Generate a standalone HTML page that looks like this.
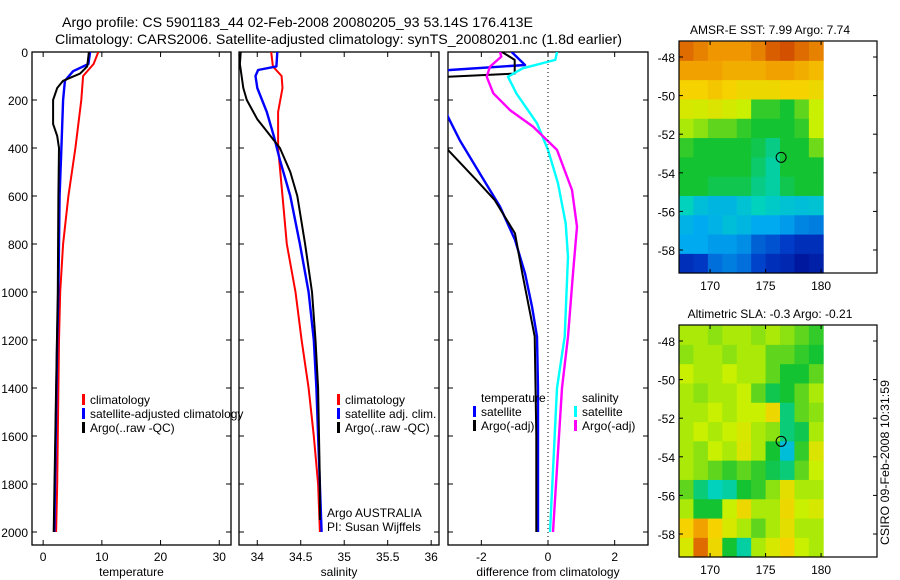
<!DOCTYPE html>
<html><head><meta charset="utf-8"><style>
html,body{margin:0;padding:0;background:#fff;}
svg{display:block;font-family:"Liberation Sans",sans-serif;}
</style></head><body>
<svg id="fig" width="900" height="580" viewBox="0 0 900 580" xmlns="http://www.w3.org/2000/svg">
<text x="62" y="27" font-size="14" textLength="471" lengthAdjust="spacingAndGlyphs">Argo profile: CS 5901183_44 02-Feb-2008 20080205_93 53.14S 176.413E</text>
<text x="55" y="44" font-size="14" textLength="567" lengthAdjust="spacingAndGlyphs">Climatology: CARS2006. Satellite-adjusted climatology: synTS_20080201.nc (1.8d earlier)</text>
<g id="plots"></g>
<text transform="translate(889,545) rotate(-90)" font-size="12" textLength="165" lengthAdjust="spacingAndGlyphs">CSIRO 09-Feb-2008 10:31:59</text>
</svg>
<script>
// ---- profile data (depth in dbar) ----
const tClimDepth = [0,50,100,200,400,600,800,1000,1200,1400,1800,2000];
const tClimVal   = [9.4,8.6,6.8,6.5,5.5,4.3,3.4,2.9,2.7,2.6,2.4,2.2];
const tSatDepth  = [0,50,80,120,200,400,600,1000,1200,2000];
const tSatVal    = [8.0,7.7,5.1,3.7,3.4,3.1,2.8,2.6,2.4,1.9];
const tArgoDepth = [0,60,90,120,150,200,300,350,400,600,1000,1400,2000];
const tArgoVal   = [7.8,7.5,6.3,3.4,2.4,1.7,1.7,2.4,2.7,2.6,2.5,2.2,1.8];

const sClimDepth = [0,60,100,150,250,400,600,800,1000,1200,1400,1600,1800,2000];
const sClimVal   = [34.16,34.18,34.28,34.29,34.24,34.24,34.29,34.34,34.44,34.51,34.59,34.65,34.70,34.72];
const sSatDepth  = [0,60,75,100,150,250,350,450,600,800,1000,1200,1400,1600,2000];
const sSatVal    = [34.23,34.22,34.01,33.98,34.0,34.11,34.19,34.26,34.38,34.49,34.59,34.65,34.68,34.70,34.74];
const sArgoDepth = [0,50,150,200,280,330,400,500,600,800,1000,1200,1400,1800,1950];
const sArgoVal   = [33.81,33.8,33.84,33.88,34.0,34.11,34.26,34.38,34.46,34.55,34.63,34.67,34.70,34.72,34.72];

const dTSatDepth  = [0,54,75,90,270,367,505,644,783,922,1061,1186,1400,2000];
const dTSatVal    = [-1.09,-0.69,-2.95,-3.5,-3.0,-2.65,-2.05,-1.44,-0.99,-0.69,-0.48,-0.33,-0.3,-0.3];
const dTArgoDepth = [0,33,90,103,120,408,533,617,756,922,1186,1600,2000];
const dTArgoVal   = [-1.38,-1.0,-1.0,-3.0,-3.5,-3.0,-2.15,-1.6,-0.99,-0.77,-0.4,-0.35,-0.35];
const dSSatDepth  = [0,33,68,103,172,297,408,547,714,853,1186,1400,2000];
const dSSatVal    = [0.27,0.22,-0.76,-1.2,-0.95,-0.33,0.0,0.3,0.53,0.6,0.5,0.27,0.06];
const dSArgoDepth = [0,19,61,103,172,242,311,408,575,728,922,1186,1400,2000];
const dSArgoVal   = [-1.44,-1.4,-1.74,-1.84,-1.64,-1.14,-0.45,0.27,0.72,0.87,0.75,0.6,0.42,0.15];

const depthTicks = [0,200,400,600,800,1000,1200,1400,1600,1800,2000];
const tTicks = [0,10,20,30];
const sTicks = [34,34.5,35,35.5,36];
const dTicks = [-2,0,2];

// ---- map data (rows north->south, cols west->east) ----
const sstGrid = [
[.88,.85,.82,.82,.82,.85,.9,.92,.88,.85],
[.8,.8,.8,.78,.78,.78,.8,.8,.78,.76],
[.72,.72,.74,.72,.7,.7,.7,.72,.72,.7],
[.65,.64,.66,.64,.62,.52,.52,.5,.55,.62],
[.6,.58,.55,.55,.52,.5,.5,.5,.52,.62],
[.52,.5,.5,.5,.5,.48,.44,.5,.5,.56],
[.5,.5,.5,.5,.5,.46,.42,.5,.5,.5],
[.5,.5,.48,.48,.48,.44,.42,.48,.5,.5],
[.4,.35,.33,.33,.36,.4,.38,.36,.35,.36],
[.32,.3,.32,.35,.33,.3,.3,.28,.25,.24],
[.3,.3,.28,.28,.26,.2,.18,.15,.12,.12],
[.12,.14,.22,.24,.22,.16,.12,.1,.06,.08]];
const slaGrid = [
[.6,.6,.58,.6,.6,.58,.6,.58,.55,.52],
[.58,.6,.6,.58,.6,.6,.55,.55,.52,.5],
[.62,.6,.6,.62,.6,.6,.55,.5,.5,.55],
[.6,.58,.6,.6,.62,.55,.48,.5,.55,.6],
[.6,.6,.62,.6,.62,.62,.7,.45,.55,.58],
[.6,.62,.6,.62,.65,.6,.58,.45,.48,.6],
[.6,.58,.62,.6,.66,.6,.5,.35,.52,.66],
[.6,.58,.55,.52,.55,.52,.48,.45,.55,.62],
[.55,.45,.4,.42,.5,.52,.58,.68,.6,.6],
[.6,.5,.5,.62,.7,.6,.6,.7,.62,.65],
[.72,.8,.72,.65,.6,.55,.6,.68,.6,.6],
[.65,.88,.7,.5,.42,.6,.65,.72,.62,.6]];
const lonTicks = [170,175,180];
const latTicks = [-48,-50,-52,-54,-56,-58];
const argoLon = 176.4, argoLat = -53.2;

const NS='http://www.w3.org/2000/svg';
const root=document.getElementById('plots');
function mk(tag,attrs,parent){const e=document.createElementNS(NS,tag);for(const k in attrs)e.setAttribute(k,attrs[k]);(parent||root).appendChild(e);return e;}
function txt(x,y,s,size,anchor,parent){const e=mk('text',{x:x,y:y,'font-size':size,'text-anchor':anchor||'start'},parent);e.textContent=s;return e;}

const yTop=52,yBot=545;
const yD=d=>52+d*0.24;

function panel(name,x0,x1,vmin,vmax,ticks,tickFmt,xlabel,showY){
  const g=mk('g',{});
  
  
  const xs=v=>x0+(v-vmin)/(vmax-vmin)*(x1-x0);
  const r=mk('rect',{x:x0,y:yTop,width:x1-x0,height:yBot-yTop,fill:'none',stroke:'#000','stroke-width':1.3},g);
  
  
  depthTicks.forEach(d=>{
    mk('line',{x1:x0,x2:x0+5,y1:yD(d),y2:yD(d),stroke:'#000'},g);
    mk('line',{x1:x1,x2:x1-5,y1:yD(d),y2:yD(d),stroke:'#000'},g);
    if(showY){const t=txt(28,yD(d)+5,String(d),12,'end',g);
      
      }
  });
  ticks.forEach(v=>{
    mk('line',{x1:xs(v),x2:xs(v),y1:yBot,y2:yBot-5,stroke:'#000'},g);
    mk('line',{x1:xs(v),x2:xs(v),y1:yTop,y2:yTop+5,stroke:'#000'},g);
    const t=txt(xs(v),561,tickFmt(v),12,'middle',g);
    
    
  });
  const xl=txt((x0+x1)/2,576,xlabel,12,'middle',g);
  
  
  const cid='clip'+name;
  const cp=mk('clipPath',{id:cid},g);mk('rect',{x:x0,y:yTop,width:x1-x0,height:yBot-yTop},cp);
  const lg=mk('g',{'clip-path':'url(#'+cid+')'},g);
  return {g:g,xs:xs,lg:lg};
}
function line(p,depths,vals,color,w,name){
  const pts=depths.map((d,i)=>p.xs(vals[i]).toFixed(1)+','+yD(d).toFixed(1)).join(' ');
  const l=mk('polyline',{points:pts,fill:'none',stroke:color,'stroke-width':w,'stroke-linejoin':'round'},p.lg);
  
  
}
function legend(g,x,y,color,label,name){
  mk('rect',{x:x,y:y-10,width:3,height:11,fill:color},g);
  const t=txt(x+8,y,label,12,'start',g);
  
  
}

// Temperature panel
const p1=panel('temperature-panel',32,231,-1.9,32,tTicks,v=>String(v),'temperature',true);
line(p1,tClimDepth,tClimVal,'#f00',2,'temperature-climatology-line');
line(p1,tSatDepth,tSatVal,'#00f',2.4,'temperature-satellite-line');
line(p1,tArgoDepth,tArgoVal,'#000',2,'temperature-argo-line');
legend(p1.g,82,404,'#f00','climatology','legend-climatology');
legend(p1.g,82,418,'#00f','satellite-adjusted climatology','legend-satellite-adjusted');
legend(p1.g,82,432,'#000','Argo(..raw -QC)','legend-argo-raw');

// Salinity panel
const p2=panel('salinity-panel',239,439,33.79,36.09,sTicks,v=>String(v),'salinity',false);
line(p2,sClimDepth,sClimVal,'#f00',2,'salinity-climatology-line');
line(p2,sSatDepth,sSatVal,'#00f',2.4,'salinity-satellite-line');
line(p2,sArgoDepth,sArgoVal,'#000',2,'salinity-argo-line');
legend(p2.g,337,404,'#f00','climatology','legend-climatology');
legend(p2.g,337,418,'#00f','satellite adj. clim.','legend-satellite-adj');
legend(p2.g,337,432,'#000','Argo(..raw -QC)','legend-argo-raw');
const a1=txt(327,517,'Argo AUSTRALIA',12,'start',p2.g);


const a2=txt(327,531,'PI: Susan Wijffels',12,'start',p2.g);



// Difference panel
const p3=panel('difference-panel',448,648,-3,3,dTicks,v=>String(v),'difference from climatology',false);
mk('line',{x1:p3.xs(0),x2:p3.xs(0),y1:yTop,y2:yBot,stroke:'#000','stroke-dasharray':'1,3'},p3.g);
line(p3,dTSatDepth,dTSatVal,'#00f',2.4,'temperature-satellite-diff-line');
line(p3,dTArgoDepth,dTArgoVal,'#000',2,'temperature-argo-diff-line');
line(p3,dSSatDepth,dSSatVal,'#0ff',2.4,'salinity-satellite-diff-line');
line(p3,dSArgoDepth,dSArgoVal,'#f0f',2.4,'salinity-argo-diff-line');
const lt=txt(481,402,'temperature',12,'start',p3.g);


legend(p3.g,473,416,'#00f','satellite','legend-temp-satellite');
legend(p3.g,473,430,'#000','Argo(-adj)','legend-temp-argo');
const ls=txt(582,402,'salinity',12,'start',p3.g);


legend(p3.g,574,416,'#0ff','satellite','legend-sal-satellite');
legend(p3.g,574,430,'#f0f','Argo(-adj)','legend-sal-argo');

// Maps
const cmapStops=[[0,[0,0,130]],[.15,[0,60,200]],[.3,[0,170,240]],[.4,[0,210,190]],[.5,[20,195,50]],[.62,[200,240,0]],[.72,[245,210,0]],[.82,[240,150,0]],[.92,[210,80,0]],[1,[150,0,0]]];
function cmap(v){
  for(let i=1;i<cmapStops.length;i++){
    if(v<=cmapStops[i][0]){const [a,ca]=cmapStops[i-1],[b,cb]=cmapStops[i];const t=(v-a)/(b-a);
      return 'rgb('+ca.map((c,k)=>Math.round(c+(cb[k]-c)*t)).join(',')+')';}
  }
  return 'rgb(150,0,0)';
}
function map(name,grid,boxTop,title){
  const g=mk('g',{});
  
  
  const lat48=boxTop+16;
  const xl=lon=>679+(lon-167.2)*11.1;
  const yl=lat=>lat48+(-48-lat)*19.3;
  const lon0=167.2,lon1=180.2,lat0=-47.2,lat1=-59.2;
  const nr=grid.length,nc=grid[0].length;
  const dLon=(lon1-lon0)/nc,dLat=(lat0-lat1)/nr;
  grid.forEach((row,i)=>row.forEach((v,j)=>{
    const xa=xl(lon0+j*dLon),xb=xl(lon0+(j+1)*dLon),ya=yl(lat0-i*dLat),yb=yl(lat0-(i+1)*dLat);
    const c=mk('rect',{x:xa.toFixed(2),y:ya.toFixed(2),width:(xb-xa+0.4).toFixed(2),height:(yb-ya+0.4).toFixed(2),fill:cmap(v)},g);
    
    
  }));
  const boxBot=boxTop+232;
  mk('rect',{x:679,y:boxTop,width:198,height:boxBot-boxTop,fill:'none',stroke:'#000','stroke-width':1.2},g);
  lonTicks.forEach(l=>{
    mk('line',{x1:xl(l),x2:xl(l),y1:boxTop,y2:boxTop+4,stroke:'#000'},g);
    mk('line',{x1:xl(l),x2:xl(l),y1:boxBot,y2:boxBot-4,stroke:'#000'},g);
    const t=txt(xl(l),boxBot+17,String(l),12,'middle',g);
    
    
  });
  latTicks.forEach(l=>{
    mk('line',{x1:679,x2:683,y1:yl(l),y2:yl(l),stroke:'#000'},g);
    mk('line',{x1:877,x2:873,y1:yl(l),y2:yl(l),stroke:'#000'},g);
    const t=txt(675,yl(l)+5,String(l),12,'end',g);
    
    
  });
  const c=mk('circle',{cx:xl(argoLon),cy:yl(argoLat),r:5,fill:'none',stroke:'#000','stroke-width':1},g);
  
  
  const t=txt(770,boxTop-7,title,12,'middle',g);
  
  
}
map('sst-map',sstGrid,41,'AMSR-E SST: 7.99 Argo: 7.74');
map('sla-map',slaGrid,325,'Altimetric SLA: -0.3 Argo: -0.21');
</script>
</body></html>
